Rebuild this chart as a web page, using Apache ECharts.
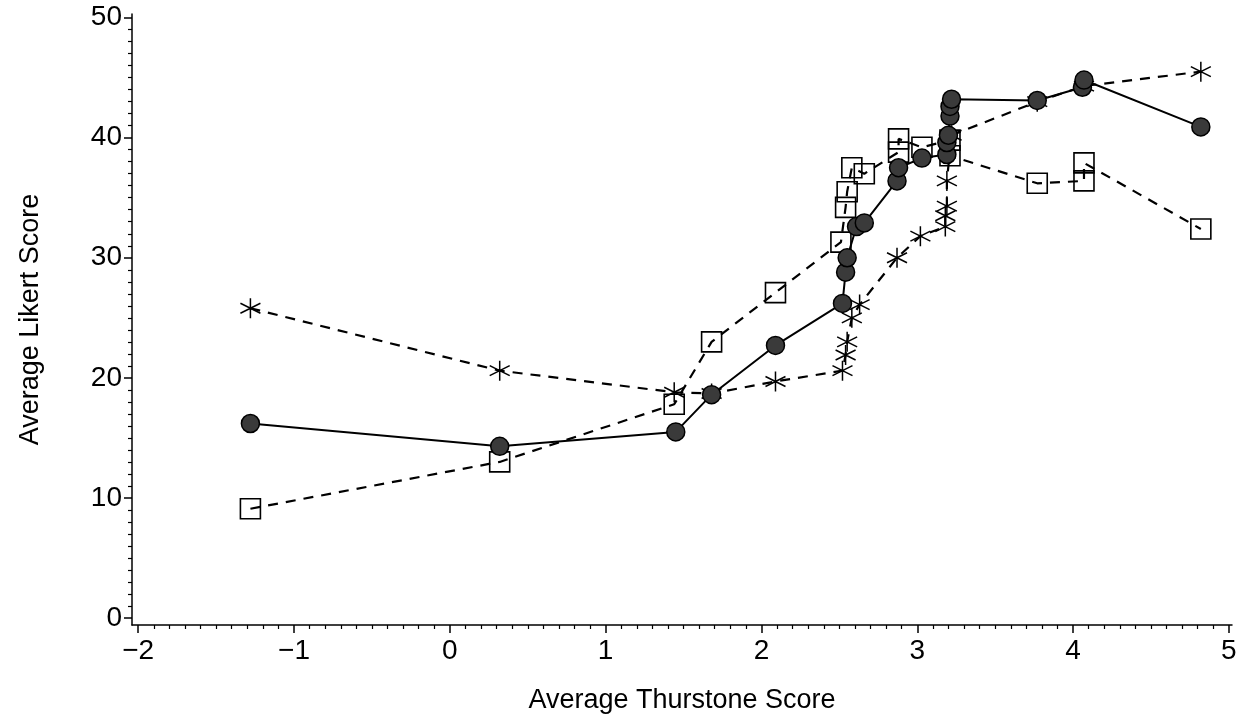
<!DOCTYPE html>
<html>
<head>
<meta charset="utf-8">
<script src="https://cdn.jsdelivr.net/npm/echarts@6/dist/echarts.min.js"></script>
<style>
  html, body { margin: 0; padding: 0; background: #fff; }
  #main { width: 1245px; height: 727px; }
</style>
</head>
<body>
<div id="main"></div>
<script>
// tick labels
var xTicks = [-2, -1, 0, 1, 2, 3, 4, 5];
var yTicks = [0, 10, 20, 30, 40, 50];

// solid line, filled circles
var circleX = [-1.28, 0.32, 1.45, 1.68, 2.09, 2.52, 2.54, 2.55, 2.61, 2.66, 2.87, 2.88, 3.03, 3.19, 3.19, 3.20, 3.21, 3.21, 3.22, 3.77, 4.06, 4.07, 4.82];
var circleY = [16.2, 14.3, 15.5, 18.6, 22.7, 26.2, 28.8, 30.0, 32.6, 32.9, 36.4, 37.5, 38.3, 38.6, 39.6, 40.2, 41.8, 42.6, 43.2, 43.1, 44.2, 44.8, 40.9];

// dashed line, open squares
var squareX = [-1.28, 0.32, 1.44, 1.68, 2.09, 2.51, 2.54, 2.55, 2.58, 2.66, 2.88, 2.88, 3.03, 3.21, 3.21, 3.77, 4.07, 4.07, 4.82];
var squareY = [9.1, 13.0, 17.8, 23.0, 27.1, 31.3, 34.2, 35.5, 37.5, 37.0, 38.8, 39.9, 39.2, 39.8, 38.5, 36.2, 36.4, 37.9, 32.4];

// dashed line, asterisks
var starX = [-1.28, 0.32, 1.44, 1.68, 2.09, 2.52, 2.54, 2.55, 2.58, 2.63, 2.87, 3.02, 3.18, 3.18, 3.19, 3.19, 3.22, 3.77, 4.07, 4.82];
var starY = [25.8, 20.6, 18.8, 18.7, 19.7, 20.6, 21.9, 23.0, 25.0, 26.1, 30.0, 31.8, 32.6, 33.5, 34.3, 36.4, 40.2, 43.0, 44.3, 45.5];

function pairs(xs, ys) {
  return xs.map(function (x, i) { return [x, ys[i]]; });
}

// minor tick positions
var xMinor = [];
for (var i = -20; i <= 50; i++) { if (i % 10 !== 0) xMinor.push(i / 10); }
var yMinor = [];
for (var j = 0; j <= 50; j++) { if (j % 10 !== 0) yMinor.push(j); }

var font = '"Liberation Sans", Arial, sans-serif';
var asterisk = 'path://M0,-10L0,10M-8.66,-5L8.66,5M-8.66,5L8.66,-5';

var myChart = echarts.init(document.getElementById('main'));
myChart.setOption({
  animation: false,
  backgroundColor: '#fff',
  grid: { left: 132, right: 13, top: 14, bottom: 102 },
  xAxis: [{
    type: 'value',
    min: -2.04,
    max: 5.02,
    splitLine: { show: false },
    axisLine: { onZero: false, lineStyle: { color: '#000', width: 1.5 } },
    axisTick: { customValues: xTicks, length: 8, lineStyle: { color: '#000', width: 1.5 } },
    axisLabel: {
      customValues: xTicks,
      color: '#000', fontSize: 28, fontFamily: font, margin: 12,
      formatter: function (v) { return v < 0 ? '\u2212' + Math.abs(v) : String(v); }
    },
    name: 'Average Thurstone Score',
    nameLocation: 'middle',
    nameGap: 62,
    nameTextStyle: { color: '#000', fontSize: 27, fontFamily: font }
  }, {
    type: 'value',
    min: -2.04,
    max: 5.02,
    position: 'bottom',
    splitLine: { show: false },
    axisLine: { show: false, onZero: false },
    axisTick: { customValues: xMinor, length: 4, lineStyle: { color: '#000', width: 1.2 } },
    axisLabel: { show: false }
  }],
  yAxis: [{
    type: 'value',
    min: -0.58,
    max: 50.3,
    splitLine: { show: false },
    axisLine: { onZero: false, lineStyle: { color: '#000', width: 1.5 } },
    axisTick: { customValues: yTicks, length: 8, lineStyle: { color: '#000', width: 1.5 } },
    axisLabel: { customValues: yTicks, color: '#000', fontSize: 28, fontFamily: font, margin: 10 },
    name: 'Average Likert Score',
    nameLocation: 'middle',
    nameGap: 88,
    nameTextStyle: { color: '#000', fontSize: 27, fontFamily: font }
  }, {
    type: 'value',
    min: -0.58,
    max: 50.3,
    position: 'left',
    splitLine: { show: false },
    axisLine: { show: false, onZero: false },
    axisTick: { customValues: yMinor, length: 4, lineStyle: { color: '#000', width: 1.2 } },
    axisLabel: { show: false }
  }],
  series: [
    {
      name: 'squares',
      type: 'line',
      data: pairs(squareX, squareY),
      symbol: 'rect',
      symbolSize: 20,
      showAllSymbol: true,
      lineStyle: { color: '#000', width: 2.2, type: [10, 8] },
      itemStyle: { color: 'rgba(0,0,0,0)', borderColor: '#000', borderWidth: 1.6 },
      emphasis: { disabled: true },
      z: 2
    },
    {
      name: 'asterisks',
      type: 'line',
      data: pairs(starX, starY),
      symbol: asterisk,
      symbolSize: 20,
      showAllSymbol: true,
      lineStyle: { color: '#000', width: 2.2, type: [10, 8] },
      itemStyle: { color: 'rgba(0,0,0,0)', borderColor: '#000', borderWidth: 1.5 },
      emphasis: { disabled: true },
      z: 3
    },
    {
      name: 'circles',
      type: 'line',
      data: pairs(circleX, circleY),
      symbol: 'circle',
      symbolSize: 18,
      showAllSymbol: true,
      lineStyle: { color: '#000', width: 2 },
      itemStyle: { color: '#3a3a3a', borderColor: '#000', borderWidth: 1.5 },
      emphasis: { disabled: true },
      z: 4
    }
  ]
});
</script>
</body>
</html>
